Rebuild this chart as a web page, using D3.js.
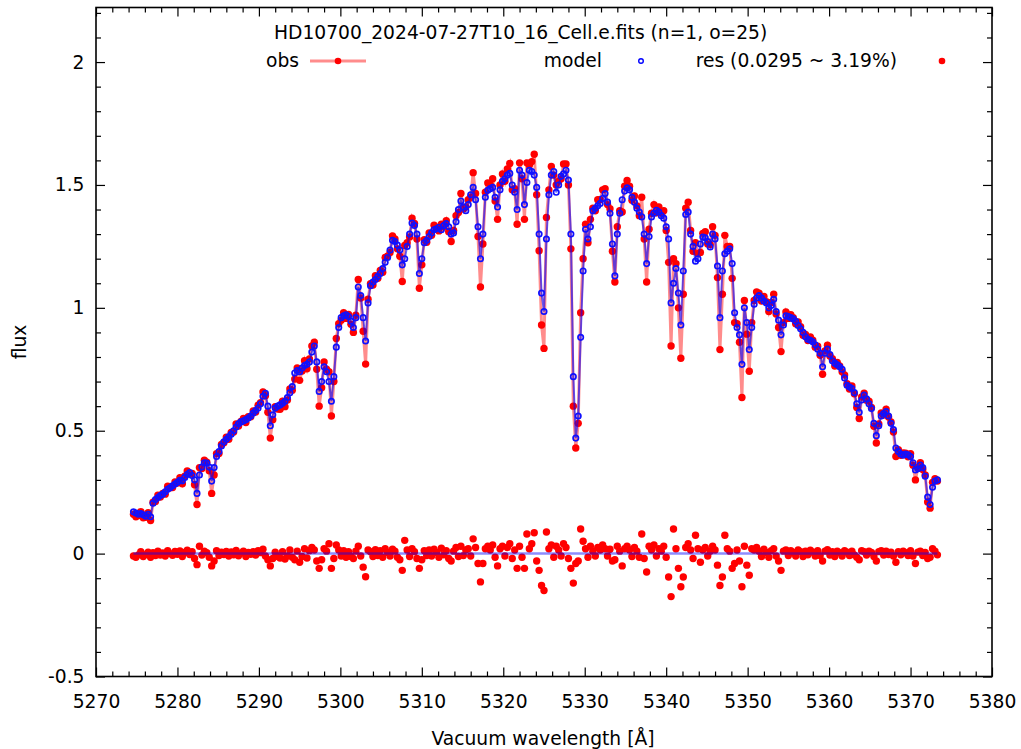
<!DOCTYPE html>
<html lang="en">
<head>
<meta charset="utf-8">
<title>HD10700 order 25 fit</title>
<script src="https://cdn.jsdelivr.net/npm/d3@7"></script>
<style>
  body{margin:0;background:#fff;}
  svg text{font-family:"DejaVu Sans",sans-serif;font-size:18.7px;fill:#000;}
</style>
</head>
<body>
<svg id="chart" width="1021" height="749"></svg>
<script>
// wavelength grid [A]
var wavelength = [
  5274.6,5274.9,5275.2,5275.5,5275.8,5276.1,5276.4,5276.7,5277.0,5277.3,
  5277.6,5277.9,5278.2,5278.5,5278.8,5279.1,5279.4,5279.7,5280.0,5280.3,
  5280.6,5280.9,5281.2,5281.5,5281.8,5282.1,5282.4,5282.7,5283.0,5283.3,
  5283.6,5283.9,5284.2,5284.5,5284.8,5285.1,5285.4,5285.7,5286.0,5286.3,
  5286.6,5286.9,5287.2,5287.5,5287.8,5288.1,5288.4,5288.7,5289.0,5289.3,
  5289.6,5289.9,5290.2,5290.5,5290.8,5291.1,5291.4,5291.7,5292.0,5292.3,
  5292.6,5292.9,5293.2,5293.5,5293.8,5294.1,5294.4,5294.7,5295.0,5295.3,
  5295.6,5295.9,5296.2,5296.5,5296.8,5297.1,5297.4,5297.7,5298.0,5298.3,
  5298.6,5298.9,5299.2,5299.5,5299.8,5300.1,5300.4,5300.7,5301.0,5301.3,
  5301.6,5301.9,5302.2,5302.5,5302.8,5303.1,5303.4,5303.7,5304.0,5304.3,
  5304.6,5304.9,5305.2,5305.5,5305.8,5306.1,5306.4,5306.7,5307.0,5307.3,
  5307.6,5307.9,5308.2,5308.5,5308.8,5309.1,5309.4,5309.7,5310.0,5310.3,
  5310.6,5310.9,5311.2,5311.5,5311.8,5312.1,5312.4,5312.7,5313.0,5313.3,
  5313.6,5313.9,5314.2,5314.5,5314.8,5315.1,5315.4,5315.7,5316.0,5316.3,
  5316.6,5316.9,5317.2,5317.5,5317.8,5318.1,5318.4,5318.7,5319.0,5319.3,
  5319.6,5319.9,5320.2,5320.5,5320.8,5321.1,5321.4,5321.7,5322.0,5322.3,
  5322.6,5322.9,5323.2,5323.5,5323.8,5324.1,5324.4,5324.7,5325.0,5325.3,
  5325.6,5325.9,5326.2,5326.5,5326.8,5327.1,5327.4,5327.7,5328.0,5328.3,
  5328.6,5328.9,5329.2,5329.5,5329.8,5330.1,5330.4,5330.7,5331.0,5331.3,
  5331.6,5331.9,5332.2,5332.5,5332.8,5333.1,5333.4,5333.7,5334.0,5334.3,
  5334.6,5334.9,5335.2,5335.5,5335.8,5336.1,5336.4,5336.7,5337.0,5337.3,
  5337.6,5337.9,5338.2,5338.5,5338.8,5339.1,5339.4,5339.7,5340.0,5340.3,
  5340.6,5340.9,5341.2,5341.5,5341.8,5342.1,5342.4,5342.7,5343.0,5343.3,
  5343.6,5343.9,5344.2,5344.5,5344.8,5345.1,5345.4,5345.7,5346.0,5346.3,
  5346.6,5346.9,5347.2,5347.5,5347.8,5348.1,5348.4,5348.7,5349.0,5349.3,
  5349.6,5349.9,5350.2,5350.5,5350.8,5351.1,5351.4,5351.7,5352.0,5352.3,
  5352.6,5352.9,5353.2,5353.5,5353.8,5354.1,5354.4,5354.7,5355.0,5355.3,
  5355.6,5355.9,5356.2,5356.5,5356.8,5357.1,5357.4,5357.7,5358.0,5358.3,
  5358.6,5358.9,5359.2,5359.5,5359.8,5360.1,5360.4,5360.7,5361.0,5361.3,
  5361.6,5361.9,5362.2,5362.5,5362.8,5363.1,5363.4,5363.7,5364.0,5364.3,
  5364.6,5364.9,5365.2,5365.5,5365.8,5366.1,5366.4,5366.7,5367.0,5367.3,
  5367.6,5367.9,5368.2,5368.5,5368.8,5369.1,5369.4,5369.7,5370.0,5370.3,
  5370.6,5370.9,5371.2,5371.5,5371.8,5372.1,5372.4,5372.7,5373.0,5373.3
]

// model flux at each wavelength
var modelFlux = [
  0.170,0.165,0.160,0.163,0.158,0.152,0.160,0.150,0.205,0.220,
  0.228,0.236,0.242,0.252,0.262,0.268,0.276,0.283,0.290,0.298,
  0.296,0.310,0.322,0.330,0.318,0.300,0.245,0.320,0.352,0.370,
  0.368,0.352,0.295,0.350,0.395,0.415,0.438,0.455,0.465,0.475,
  0.486,0.500,0.515,0.528,0.536,0.540,0.545,0.552,0.560,0.572,
  0.582,0.592,0.610,0.640,0.652,0.600,0.520,0.565,0.592,0.600,
  0.605,0.612,0.620,0.635,0.655,0.680,0.735,0.745,0.740,0.755,
  0.765,0.770,0.780,0.820,0.845,0.780,0.660,0.700,0.760,0.740,
  0.700,0.620,0.720,0.840,0.920,0.960,0.968,0.972,0.965,0.945,
  0.920,0.960,1.085,1.050,0.960,0.865,1.020,1.090,1.105,1.115,
  1.128,1.140,1.160,1.185,1.205,1.235,1.275,1.270,1.255,1.235,
  1.175,1.200,1.250,1.300,1.345,1.335,1.300,1.140,1.200,1.265,
  1.275,1.290,1.305,1.318,1.322,1.328,1.318,1.335,1.343,1.330,
  1.300,1.305,1.350,1.400,1.435,1.410,1.395,1.420,1.460,1.490,
  1.440,1.330,1.200,1.300,1.450,1.478,1.485,1.490,1.450,1.410,
  1.480,1.515,1.525,1.540,1.547,1.500,1.470,1.400,1.560,1.540,
  1.420,1.510,1.560,1.555,1.540,1.490,1.300,1.060,0.985,1.280,
  1.460,1.540,1.555,1.470,1.500,1.535,1.545,1.560,1.520,1.300,
  0.720,0.470,0.560,0.880,1.150,1.320,1.280,1.330,1.395,1.405,
  1.415,1.425,1.445,1.465,1.430,1.385,1.260,1.130,1.300,1.385,
  1.440,1.475,1.488,1.480,1.450,1.430,1.405,1.390,1.370,1.300,
  1.180,1.290,1.370,1.385,1.397,1.390,1.375,1.365,1.330,1.280,
  1.020,1.100,1.160,1.060,0.930,1.150,1.380,1.390,1.300,1.250,
  1.190,1.200,1.260,1.288,1.285,1.270,1.248,1.300,1.280,1.170,
  0.960,1.150,1.220,1.230,1.240,1.180,0.980,0.920,0.890,0.770,
  1.000,0.940,0.830,0.920,1.015,1.040,1.050,1.040,1.028,1.020,
  1.000,1.010,1.035,0.985,0.950,0.890,0.930,0.968,0.965,0.960,
  0.955,0.945,0.928,0.915,0.900,0.882,0.872,0.868,0.862,0.850,
  0.832,0.815,0.760,0.815,0.832,0.810,0.785,0.775,0.768,0.760,
  0.750,0.715,0.685,0.678,0.672,0.655,0.610,0.575,0.625,0.645,
  0.630,0.610,0.590,0.530,0.480,0.520,0.560,0.570,0.578,0.560,
  0.530,0.505,0.430,0.415,0.405,0.400,0.405,0.402,0.395,0.370,
  0.340,0.345,0.360,0.350,0.315,0.230,0.200,0.270,0.295,0.300
]

// residual obs - model
var residual = [
  -0.010,-0.015,-0.005,0.008,-0.012,-0.004,0.006,-0.015,0.004,-0.008,
  0.010,-0.006,0.003,-0.010,0.012,0.000,-0.007,0.009,-0.003,0.011,
  -0.012,0.005,0.014,-0.004,0.008,-0.020,-0.045,0.030,-0.006,0.010,
  0.004,-0.015,-0.050,-0.030,0.012,-0.008,0.006,-0.004,0.009,-0.010,
  0.007,-0.005,0.013,-0.009,0.002,0.010,-0.012,0.005,-0.003,0.008,
  -0.006,0.012,0.004,0.018,-0.010,-0.025,-0.050,-0.020,0.006,-0.012,
  -0.018,0.008,-0.022,-0.010,0.015,-0.015,-0.025,0.010,-0.035,-0.012,
  0.020,-0.018,0.012,0.025,0.015,-0.030,-0.060,-0.025,0.020,0.010,
  0.040,-0.060,-0.020,0.035,0.015,-0.010,0.012,-0.015,0.008,-0.012,
  -0.020,0.010,0.030,-0.010,-0.055,-0.094,0.015,0.008,-0.012,0.016,
  -0.008,0.012,-0.015,0.020,0.005,-0.010,0.018,0.010,-0.015,-0.025,
  -0.068,0.054,0.015,-0.012,0.020,0.008,-0.020,-0.060,-0.025,0.012,
  -0.008,0.015,-0.010,0.018,0.005,-0.015,0.022,-0.005,0.012,-0.020,
  -0.030,0.010,0.025,-0.012,0.030,-0.008,0.015,0.020,-0.010,0.060,
  0.025,-0.040,-0.115,-0.040,0.020,0.030,0.015,0.035,-0.015,-0.050,
  0.020,0.030,-0.010,0.025,0.040,-0.020,0.015,-0.060,0.030,-0.015,
  -0.060,0.080,0.020,0.040,0.085,-0.030,-0.068,-0.130,-0.150,0.088,
  0.020,0.035,-0.015,0.030,0.015,-0.010,0.040,0.025,-0.020,-0.060,
  -0.120,-0.040,-0.030,0.100,0.050,0.020,-0.015,0.030,0.010,-0.010,
  0.025,0.015,0.035,0.020,-0.010,0.018,-0.030,-0.025,0.030,0.010,
  -0.050,0.020,0.030,0.015,-0.012,0.025,0.010,-0.015,0.080,-0.020,
  -0.075,0.030,0.015,0.035,-0.010,0.020,0.010,0.030,-0.015,-0.095,
  -0.175,0.100,0.020,-0.060,-0.135,-0.095,0.025,0.040,0.015,-0.020,
  0.075,0.020,-0.035,0.015,0.025,-0.010,0.010,0.030,0.015,-0.047,
  -0.130,-0.095,0.075,0.020,0.010,-0.060,-0.040,0.015,-0.030,-0.135,
  0.030,-0.047,-0.088,0.020,0.015,0.025,0.010,-0.012,0.018,0.005,
  -0.015,0.012,0.020,-0.010,-0.030,-0.068,0.010,0.015,-0.008,0.012,
  0.005,-0.010,0.015,0.008,-0.012,0.010,-0.005,0.014,0.006,-0.010,
  0.012,-0.008,-0.030,0.010,0.016,-0.006,0.008,-0.012,0.010,0.004,
  -0.010,0.012,0.006,-0.008,0.010,-0.005,-0.015,-0.025,0.012,0.008,
  -0.006,0.010,0.005,-0.012,-0.030,0.008,0.012,-0.006,0.010,-0.004,
  0.006,-0.010,-0.035,0.008,-0.005,0.010,0.004,-0.008,0.012,-0.010,
  -0.040,0.006,0.010,-0.008,0.005,-0.020,-0.015,0.020,0.010,-0.005
]

var xMajor = [5270,5280,5290,5300,5310,5320,5330,5340,5350,5360,5370,5380]
var yMajor = [-0.5,0,0.5,1,1.5,2]

var rows = wavelength.map(function(w,i){
  return {w:w, model:modelFlux[i], res:residual[i], obs:modelFlux[i]+residual[i]}
})

var svg = d3.select("#chart")
var plotL = 96, plotR = 992, plotT = 7.5, plotB = 676.5
var dotR = 3.7, ringR = 2.7

var x = d3.scaleLinear().domain([5270,5380]).range([plotL,plotR])
var y = d3.scaleLinear().domain([-0.5,2.222]).range([plotB,plotT])

var xMinor = d3.range(5270,5381,2).filter(function(v){ return v % 10 != 0 })
var yMinor = d3.range(-5,23).map(function(v){ return v/10 }).filter(function(v){ return Math.abs(v*2 - Math.round(v*2)) > 1e-6 })

// ticks, all pointing inward (gnuplot style, mirrored)
function addAxis(gen, tx, ty, vals, size, labels, pad){
  var g = svg.append("g").attr("transform","translate("+tx+","+ty+")")
    .call(gen.tickValues(vals).tickSize(size).tickPadding(pad || 3)
      .tickFormat(labels ? function(v){ return String(v) } : ""))
  g.select(".domain").remove()
  g.selectAll(".tick line").attr("stroke","#000").attr("stroke-width",1.2)
  g.selectAll("text").attr("fill","#000")
  g.attr("font-size",null).attr("font-family",null)
  return g
}
addAxis(d3.axisBottom(x), 0, plotB, xMajor, -9, true, 18)
addAxis(d3.axisBottom(x), 0, plotB, xMinor, -5, false)
addAxis(d3.axisTop(x), 0, plotT, xMajor, -9, false)
addAxis(d3.axisTop(x), 0, plotT, xMinor, -5, false)
addAxis(d3.axisLeft(y), plotL, 0, yMajor, -9, true, 11.5)
addAxis(d3.axisLeft(y), plotL, 0, yMinor, -5, false)
addAxis(d3.axisRight(y), plotR, 0, yMajor, -9, false)
addAxis(d3.axisRight(y), plotR, 0, yMinor, -5, false)

svg.append("rect").attr("x",plotL).attr("y",plotT)
  .attr("width",plotR-plotL).attr("height",plotB-plotT)
  .attr("fill","none").attr("stroke","#000").attr("stroke-width",1.6)

// obs
var obsLine = d3.line().x(function(d){ return x(d.w) }).y(function(d){ return y(d.obs) })
svg.append("path").datum(rows).attr("d",obsLine)
  .attr("fill","none").attr("stroke","#ff0000").attr("stroke-opacity",0.45).attr("stroke-width",3)
svg.append("g").selectAll("circle").data(rows).enter().append("circle")
  .attr("cx",function(d){ return x(d.w) }).attr("cy",function(d){ return y(d.obs) })
  .attr("r",dotR).attr("fill","#ff0000")

// model
var modelLine = d3.line().x(function(d){ return x(d.w) }).y(function(d){ return y(d.model) })
svg.append("path").datum(rows).attr("d",modelLine)
  .attr("fill","none").attr("stroke","#0000ff").attr("stroke-opacity",0.6).attr("stroke-width",2)
svg.append("g").selectAll("circle").data(rows).enter().append("circle")
  .attr("cx",function(d){ return x(d.w) }).attr("cy",function(d){ return y(d.model) })
  .attr("r",ringR).attr("fill","none").attr("stroke","#1010ff").attr("stroke-width",1.7)

// res
svg.append("g").selectAll("circle").data(rows).enter().append("circle")
  .attr("cx",function(d){ return x(d.w) }).attr("cy",function(d){ return y(d.res) })
  .attr("r",dotR).attr("fill","#ff0000")
svg.append("line")
  .attr("x1",x(wavelength[0])).attr("x2",x(wavelength[wavelength.length-1]))
  .attr("y1",y(0)).attr("y2",y(0))
  .attr("stroke","#0000ff").attr("stroke-opacity",0.45).attr("stroke-width",2.5)

// title, key, labels
svg.append("text").attr("x",274).attr("y",39)
  .text("HD10700_2024-07-27T10_16_Cell.e.fits (n=1, o=25)")

svg.append("text").attr("x",299).attr("y",67).attr("text-anchor","end").text("obs")
svg.append("line").attr("x1",310).attr("x2",366).attr("y1",61).attr("y2",61)
  .attr("stroke","#ff0000").attr("stroke-opacity",0.45).attr("stroke-width",3)
svg.append("circle").attr("cx",338).attr("cy",61).attr("r",3.3).attr("fill","#ff0000")

svg.append("text").attr("x",602).attr("y",67).attr("text-anchor","end").text("model")
svg.append("circle").attr("cx",641).attr("cy",61).attr("r",2.3)
  .attr("fill","none").attr("stroke","#0000ff").attr("stroke-width",1.4)

svg.append("text").attr("x",897).attr("y",67).attr("text-anchor","end").text("res (0.0295 ~ 3.19%)")
svg.append("circle").attr("cx",942).attr("cy",61).attr("r",3.3).attr("fill","#ff0000")

svg.append("text").attr("transform","translate(26,342) rotate(-90)")
  .attr("text-anchor","middle").text("flux")
svg.append("text").attr("x",543).attr("y",745).attr("text-anchor","middle")
  .text("Vacuum wavelength [Å]")
</script>
</body>
</html>
